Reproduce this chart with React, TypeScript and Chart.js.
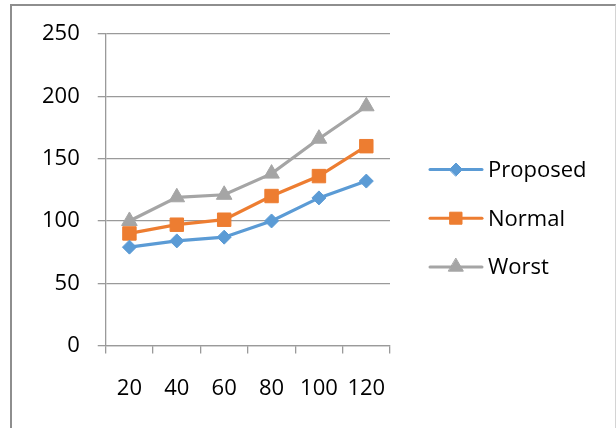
import { useEffect, useRef } from "react";
import { Chart, registerables } from "chart.js";
import { drawPoint } from "chart.js/helpers";

Chart.register(...registerables);

const categories = ["20", "40", "60", "80", "100", "120"];
const proposed = [79, 84, 87, 100, 118.5, 132];
const normal = [90, 97, 101, 120, 136, 160];
const worst = [100, 119, 121, 138, 166, 192];
const yTicks = [0, 50, 100, 150, 200, 250];

const FONT = '"Open Sans", "Noto Sans", sans-serif';

// legend drawn on the right side, Excel style: short line with the marker in the middle
const sideLegend = {
  id: "sideLegend",
  afterDraw(chart: any) {
    const ctx = chart.ctx;
    chart.data.datasets.forEach((ds: any, i: number) => {
      const y = 169.5 + i * 48.7;
      ctx.save();
      ctx.strokeStyle = ds.borderColor;
      ctx.lineWidth = 3;
      ctx.lineCap = "round";
      ctx.beginPath();
      ctx.moveTo(430, y);
      ctx.lineTo(482, y);
      ctx.stroke();
      ctx.fillStyle = ds.pointBackgroundColor;
      ctx.strokeStyle = ds.pointBorderColor;
      ctx.lineWidth = 1;
      drawPoint(ctx, { pointStyle: ds.pointStyle, radius: ds.legendRadius, borderWidth: 1, rotation: 0 } as any, 456, y);
      ctx.fillStyle = "#000";
      ctx.font = `22px ${FONT}`;
      ctx.textBaseline = "alphabetic";
      ctx.textAlign = "left";
      ctx.fillText(ds.label, 488, y + 7.5);
      ctx.restore();
    });
  },
};

export default function App() {
  const canvasRef = useRef<HTMLCanvasElement>(null);

  useEffect(() => {
    if (!canvasRef.current) return;

    const series = [
      { label: "Proposed", data: proposed, color: "#5B9BD5", style: "rectRot", r: 7, lr: 6.5 },
      { label: "Normal", data: normal, color: "#ED7D31", style: "rect", r: 9.5, lr: 8.5 },
      { label: "Worst", data: worst, color: "#A5A5A5", style: "triangle", r: 9, lr: 8.5 },
    ];

    const chart = new Chart(canvasRef.current, {
      type: "line",
      data: {
        labels: categories,
        datasets: series.map((s) => ({
          label: s.label,
          data: s.data,
          borderColor: s.color,
          backgroundColor: s.color,
          pointBackgroundColor: s.color,
          pointBorderColor: s.color,
          pointBorderWidth: 1,
          pointStyle: s.style,
          pointRadius: s.r,
          legendRadius: s.lr,
          borderWidth: 3.2,
          tension: 0,
          fill: false,
        })) as any,
      },
      options: {
        responsive: false,
        animation: false,
        layout: { padding: { left: 24, top: 34, right: 226, bottom: 4 } },
        plugins: {
          legend: { display: false },
          tooltip: { enabled: false },
        },
        scales: {
          x: {
            offset: true,
            grid: {
              display: true,
              offset: true,
              drawOnChartArea: false,
              drawTicks: true,
              tickLength: 8,
              color: "#9a9a9a",
              lineWidth: 1.3,
            },
            border: { color: "#9a9a9a", width: 1.3 },
            ticks: {
              color: "#000",
              padding: 22,
              font: { family: FONT, size: 22 },
              maxRotation: 0,
              autoSkip: false,
            },
          },
          y: {
            min: yTicks[0],
            max: yTicks[yTicks.length - 1],
            grid: {
              color: "#9a9a9a",
              lineWidth: 1.3,
              tickLength: 8,
            },
            border: { color: "#9a9a9a", width: 1.3 },
            afterBuildTicks: (axis: any) => {
              axis.ticks = yTicks.map((v) => ({ value: v }));
            },
            ticks: {
              color: "#000",
              padding: 18,
              font: { family: FONT, size: 22 },
            },
          },
        },
      },
      plugins: [sideLegend],
    });

    return () => {
      chart.destroy();
    };
  }, []);

  return (
    <div
      style={{
        position: "fixed",
        left: 0,
        top: 0,
        width: 616,
        height: 428,
        overflow: "hidden",
        background: "#fff",
      }}
    >
      <canvas ref={canvasRef} width={616} height={428} style={{ position: "absolute", left: 0, top: 0 }} />
      <div
        style={{
          position: "absolute",
          left: 10,
          top: 4,
          width: 603,
          height: 460,
          borderLeft: "2px solid #8e8e8e",
          borderTop: "2px solid #8e8e8e",
          borderRight: "1px solid #d4d4d4",
          pointerEvents: "none",
        }}
      />
    </div>
  );
}
